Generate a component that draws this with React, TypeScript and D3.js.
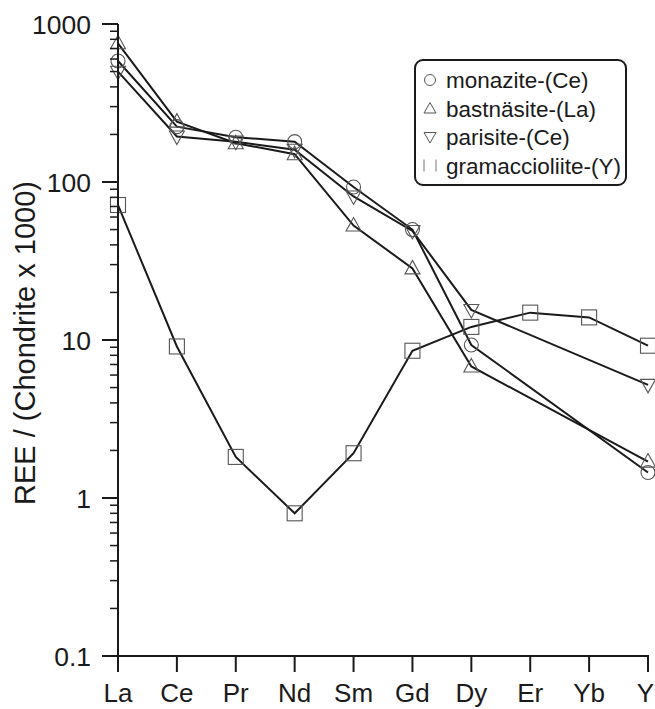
import React from 'react';
import * as d3 from 'd3';

const elements = ['La', 'Ce', 'Pr', 'Nd', 'Sm', 'Gd', 'Dy', 'Er', 'Yb', 'Y'];

// null = not analysed
const monazite = [583, 224, 192, 180, 93, 50, 9.3, null, null, 1.45];
const bastnasite = [755, 241, 176, 150, 53, 28.4, 6.8, null, null, 1.7];
const parisite = [499, 194, 180, 160, 81, 49, 15.5, null, null, 5.2];
const gramaccioliite = [71.5, 9.1, 1.82, 0.8, 1.92, 8.55, 12.1, 14.9, 13.9, 9.2];

const seriesNames = ['monazite-(Ce)', 'bastnäsite-(La)', 'parisite-(Ce)', 'gramaccioliite-(Y)'];
const yTicks = [0.1, 1, 10, 100, 1000];

const FONT = '"Liberation Sans", Arial, sans-serif';

const x = d3.scalePoint<string>().domain(elements).range([118, 648]);
const y = d3.scaleLog().domain([0.1, 1000]).range([656, 24]);

function marker(kind: string, cx: number, cy: number, key: any) {
  const st = { fill: 'none', stroke: '#555', strokeWidth: 1.1 };
  if (kind === 'circle') return <circle key={key} cx={cx} cy={cy} r={7} {...st} />;
  if (kind === 'up') return <path key={key} d={`M${cx},${cy - 8}L${cx + 7.5},${cy + 5.5}L${cx - 7.5},${cy + 5.5}Z`} {...st} />;
  if (kind === 'down') return <path key={key} d={`M${cx},${cy + 8}L${cx + 7.5},${cy - 5.5}L${cx - 7.5},${cy - 5.5}Z`} {...st} />;
  return <rect key={key} x={cx - 7.5} y={cy - 7.5} width={15} height={15} {...st} />;
}

export default function App() {
  const series = [
    { vals: monazite, kind: 'circle' },
    { vals: bastnasite, kind: 'up' },
    { vals: parisite, kind: 'down' },
    { vals: gramaccioliite, kind: 'square' },
  ];
  const line = d3.line<[string, number]>().x(d => x(d[0])!).y(d => y(d[1]));

  const minor: number[] = [];
  for (let dec = 0.1; dec < 1000; dec *= 10) {
    for (let k = 2; k <= 9; k++) minor.push(dec * k);
  }

  return (
    <svg width={655} height={709} style={{ position: 'absolute', left: 0, top: 0 }}>
      <rect width={655} height={709} fill="#fff" />
      {/* lines */}
      {series.map((s, i) => {
        const pts = elements.map((e, j) => [e, s.vals[j]] as [string, number]).filter(d => d[1] != null);
        return <path key={i} d={line(pts)!} fill="none" stroke="#1a1a1a" strokeWidth={2} />;
      })}
      {/* markers */}
      {series.map((s, i) =>
        elements.map((e, j) => (s.vals[j] == null ? null : marker(s.kind, x(e)!, y(s.vals[j] as number), `${i}-${j}`)))
      )}
      {/* y axis */}
      <line x1={118} x2={118} y1={y(1000)} y2={y(0.1)} stroke="#1a1a1a" strokeWidth={2} />
      {yTicks.map(t => (
        <g key={t}>
          <line x1={102} x2={118} y1={y(t)} y2={y(t)} stroke="#1a1a1a" strokeWidth={2} />
          <text x={91} y={y(t) + 10} textAnchor="end" fontFamily={FONT} fontSize={26.5} fill="#1a1a1a">{t}</text>
        </g>
      ))}
      {minor.map(t => (
        <line key={t} x1={110} x2={118} y1={y(t)} y2={y(t)} stroke="#1a1a1a" strokeWidth={1.5} />
      ))}
      <text transform={`translate(35,343) rotate(-90)`} textAnchor="middle" fontFamily={FONT} fontSize={29} fill="#1a1a1a">
        REE / (Chondrite x 1000)
      </text>
      {/* x axis */}
      <line x1={102} x2={649} y1={656} y2={656} stroke="#1a1a1a" strokeWidth={2} />
      {elements.map((e, i) => {
        const last = i === elements.length - 1;
        return (
          <g key={e}>
            <line x1={x(e)} x2={x(e)} y1={656} y2={672} stroke="#1a1a1a" strokeWidth={2} />
            <text x={last ? 654 : x(e)} y={702} textAnchor={last ? 'end' : 'middle'} fontFamily={FONT} fontSize={26} fill="#1a1a1a">{e}</text>
          </g>
        );
      })}
      {/* legend */}
      <rect x={415} y={60} width={211} height={125} rx={8} fill="#fff" stroke="#1a1a1a" strokeWidth={2} />
      {seriesNames.map((n, i) => {
        const ly = 80 + i * 28.5;
        const kind = series[i].kind;
        let m;
        if (kind === 'circle') m = <circle cx={430} cy={ly} r={5.5} fill="none" stroke="#555" strokeWidth={1} />;
        else if (kind === 'up') m = <path d={`M430,${ly - 6}L436,${ly + 4.5}L424,${ly + 4.5}Z`} fill="none" stroke="#555" strokeWidth={1} />;
        else if (kind === 'down') m = <path d={`M430,${ly + 6}L436,${ly - 4.5}L424,${ly - 4.5}Z`} fill="none" stroke="#555" strokeWidth={1} />;
        else m = (
          <g stroke="#777" strokeWidth={1}>
            <line x1={424} x2={424} y1={ly - 6} y2={ly + 6} />
            <line x1={436} x2={436} y1={ly - 6} y2={ly + 6} />
          </g>
        );
        return (
          <g key={n}>
            {m}
            <text x={446} y={ly + 8} fontFamily={FONT} fontSize={22.5} fill="#1a1a1a">{n}</text>
          </g>
        );
      })}
    </svg>
  );
}
